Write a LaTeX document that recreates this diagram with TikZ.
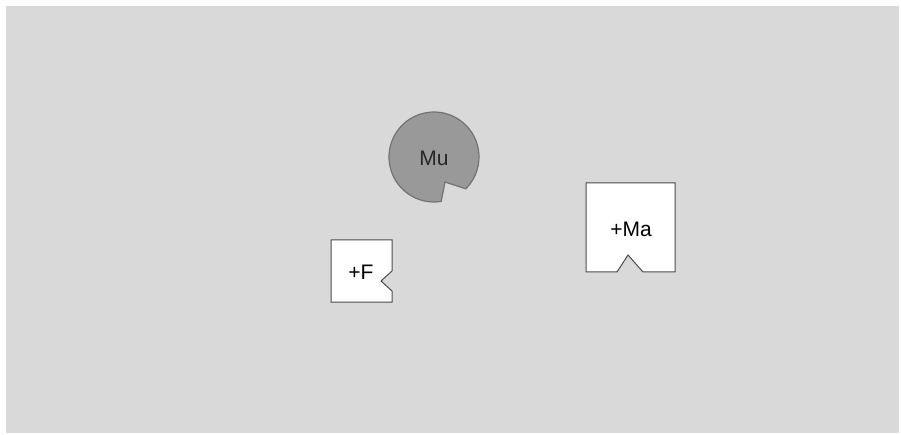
\documentclass[tikz,border=0pt]{standalone}
\usepackage{fontspec}
\setmainfont{Liberation Sans}
\usetikzlibrary{calc}
\begin{document}
\begin{tikzpicture}[x=1pt,y=-1pt,
  shapeline/.style={draw=black!70, line width=1pt},
  boxshape/.style={shapeline, fill=white},
  circshape/.style={draw=black!55, line width=1.2pt, fill=black!40},
  lbl/.style={font=\fontsize{21}{23}\selectfont, text=black, inner sep=0pt}]
\useasboundingbox (0,0) rectangle (901,435);
\fill[white] (0,0) rectangle (901,435);
\fill[black!15] (6,6) rectangle (899,433);
% Mu pacman
\draw[circshape] (445,182) -- ($(434,157)+(80.8:45)$) arc[start angle=80.8, end angle=405, radius=45] -- cycle;
\node[lbl, text=black!85] (mu) at (434,158) {Mu};
% +F box
\draw[boxshape] (331,240) -- (392,240) -- (392,271) -- (381,281) -- (392,291) -- (392,302) -- (331,302) -- cycle;
\node[lbl] (f) at (361,272) {+F};
% +Ma box
\draw[boxshape] (586,183) -- (675,183) -- (675,272) -- (643,272) -- (628,255) -- (617,272) -- (586,272) -- cycle;
\node[lbl] (ma) at (631,229) {+Ma};
\end{tikzpicture}
\end{document}
